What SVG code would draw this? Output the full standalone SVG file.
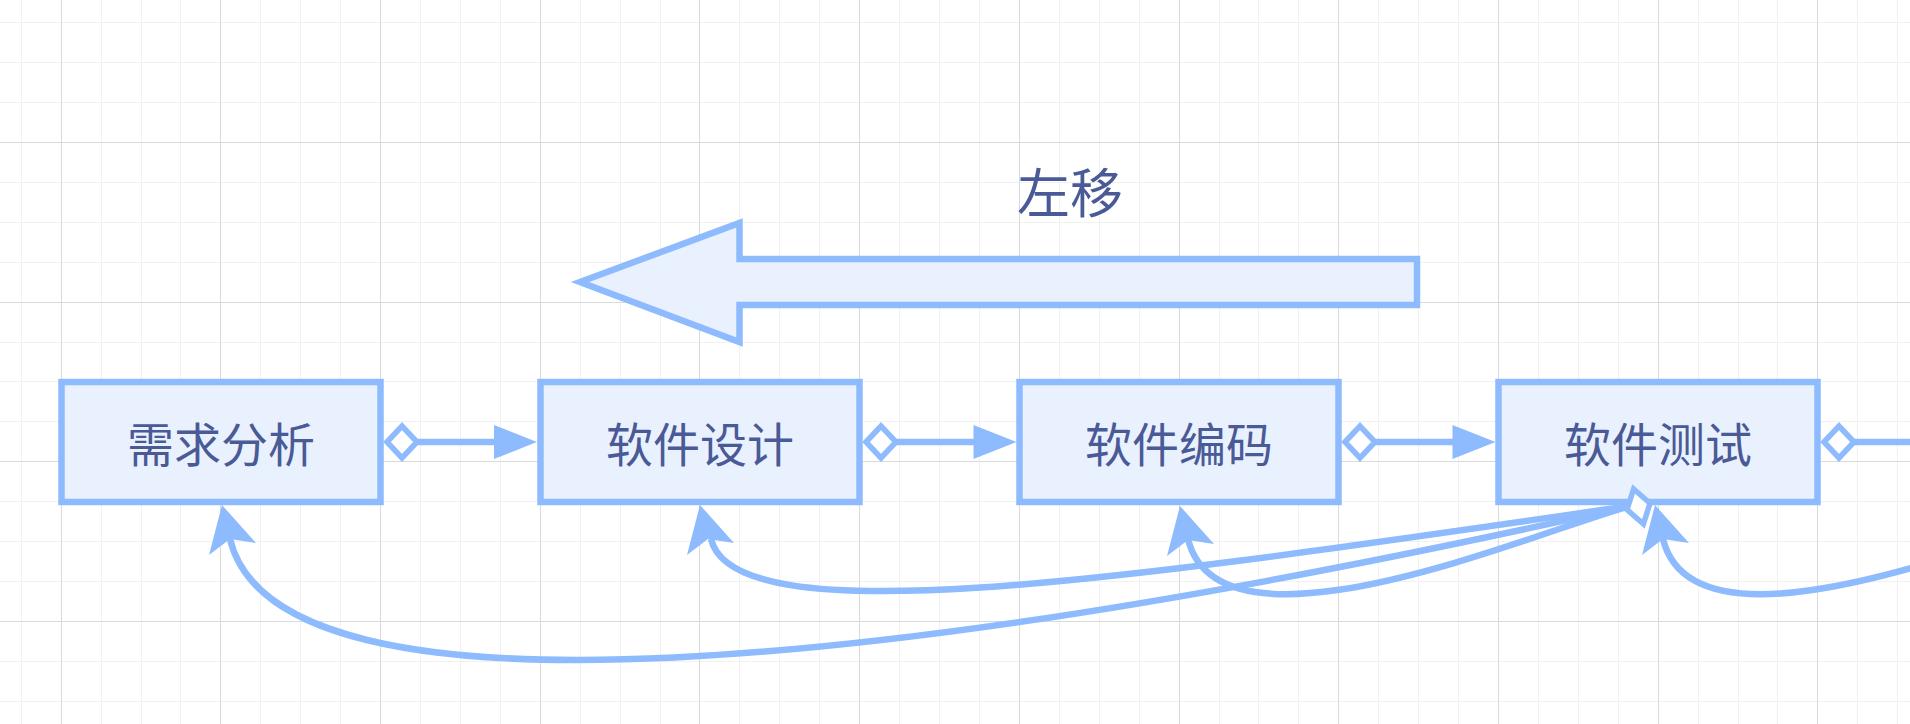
<svg xmlns="http://www.w3.org/2000/svg" xmlns:xlink="http://www.w3.org/1999/xlink" width="1910" height="724" viewBox="0 0 1910 724">
<style>
.gmin{stroke:#f1f1f1;stroke-width:1;fill:none}
.gmaj{stroke:#dadada;stroke-width:1;fill:none}
.box{fill:#e9f1fe;stroke:#8ebafe;stroke-width:6.5}
.label{font-family:"Noto Sans CJK SC","Noto Sans",sans-serif;font-size:47px;font-weight:400;fill:#4a5a96;text-anchor:middle}
.conn{stroke:#8ebafe;stroke-width:6.5;fill:none}
.head{fill:#8ebafe;stroke:none}
.dia{fill:#ffffff;stroke:#8ebafe;stroke-width:5.5}
</style>
<defs>
<path id="dmd" d="M-15,0 L0,-16 L15,0 L0,16 Z"/>
<path id="ah" d="M0,0 L-43,-17 L-43,17 Z"/>
<path id="ch" d="M0,0 L34,38 L8,34 L-13,50 Z"/>
</defs>
<rect x="0" y="0" width="1910" height="724" fill="#ffffff"/>
<g id="grid">
<path class="gmin" d="M21.5,0V724M101.5,0V724M141.5,0V724M180.5,0V724M260.5,0V724M300.5,0V724M340.5,0V724M420.5,0V724M460.5,0V724M500.5,0V724M580.5,0V724M620.5,0V724M660.5,0V724M739.5,0V724M779.5,0V724M819.5,0V724M899.5,0V724M939.5,0V724M979.5,0V724M1059.5,0V724M1099.5,0V724M1139.5,0V724M1219.5,0V724M1258.5,0V724M1298.5,0V724M1378.5,0V724M1418.5,0V724M1458.5,0V724M1538.5,0V724M1578.5,0V724M1618.5,0V724M1698.5,0V724M1738.5,0V724M1777.5,0V724M1857.5,0V724M1897.5,0V724M0,22.5H1910M0,62.5H1910M0,102.5H1910M0,182.5H1910M0,222.5H1910M0,262.5H1910M0,342.5H1910M0,381.5H1910M0,421.5H1910M0,501.5H1910M0,541.5H1910M0,581.5H1910M0,661.5H1910M0,701.5H1910"/>
<path class="gmaj" d="M61.5,0V724M220.5,0V724M380.5,0V724M540.5,0V724M699.5,0V724M859.5,0V724M1019.5,0V724M1179.5,0V724M1338.5,0V724M1498.5,0V724M1658.5,0V724M1817.5,0V724M0,142.5H1910M0,302.5H1910M0,461.5H1910M0,621.5H1910"/>
</g>
<g id="shift-arrow">
<path d="M580,282 L739.5,223 L739.5,259 L1417,259 L1417,305 L739.5,305 L739.5,342 Z" fill="#e9f1fe" stroke="#8ebafe" stroke-width="6.5"/>
<text class="label" x="1070" y="213" style="font-size:53px">左移</text>
</g>
<g id="node-1">
<rect class="box" x="61.5" y="382" width="319" height="120"/>
<text class="label" x="221" y="462">需求分析</text>
</g>
<g id="node-2">
<rect class="box" x="540.5" y="382" width="319" height="120"/>
<text class="label" x="700" y="462">软件设计</text>
</g>
<g id="node-3">
<rect class="box" x="1019.5" y="382" width="319" height="120"/>
<text class="label" x="1179" y="462">软件编码</text>
</g>
<g id="node-4">
<rect class="box" x="1498.5" y="382" width="319" height="120"/>
<text class="label" x="1658" y="462">软件测试</text>
</g>
<g id="connectors">
<path class="conn" d="M416,442H496"/>
<use href="#ah" class="head" transform="translate(537,442)"/>
<use href="#dmd" class="dia" transform="translate(402,442)"/>
<path class="conn" d="M895,442H975"/>
<use href="#ah" class="head" transform="translate(1016.5,442)"/>
<use href="#dmd" class="dia" transform="translate(881,442)"/>
<path class="conn" d="M1374,442H1454"/>
<use href="#ah" class="head" transform="translate(1495.5,442)"/>
<use href="#dmd" class="dia" transform="translate(1360,442)"/>
<path class="conn" d="M1853,442H1915"/>
<use href="#dmd" class="dia" transform="translate(1839,442)"/>
<path class="conn" d="M1630,506 C900,670 277,735 230,539"/>
<use href="#ch" class="head" transform="translate(222,505)"/>
<path class="conn" d="M1630,506 C1150,575 735,640 711,539"/>
<use href="#ch" class="head" transform="translate(700,505)"/>
<path class="conn" d="M1630,506 C1540,530 1220,670 1188,539"/>
<use href="#ch" class="head" transform="translate(1180,506)"/>
<path class="conn" d="M2105,506 C2015,530 1695,670 1663,539"/>
<use href="#ch" class="head" transform="translate(1655,505)"/>
<path class="dia" d="M1633.6,489 L1650,503.3 L1643.4,524 L1627,509.7 Z"/>
</g>
</svg>
